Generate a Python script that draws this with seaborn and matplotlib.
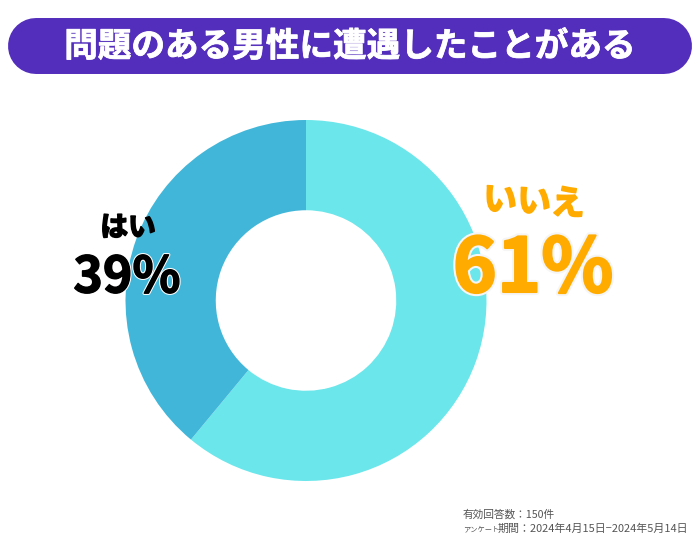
import matplotlib
matplotlib.use("Agg")
import matplotlib.pyplot as plt
import matplotlib.patheffects as pe
import seaborn as sns

title = "問題のある男性に遭遇したことがある"
labels = ["いいえ", "はい"]
values = [61, 39]
colors = ["#6be6eb", "#41b6d8"]
note_top = "有効回答数：150件"
note_kana = "アンケート"
note_rest = "期間：2024年4月15日−2024年5月14日"

sns.set_theme(style="white")
plt.rcParams["font.family"] = ["Noto Sans CJK JP", "DejaVu Sans"]

fig = plt.figure(figsize=(7, 5.5), dpi=100)

# whole figure in pixels, for banner and texts
bg = fig.add_axes([0, 0, 1, 1])
bg.set_xlim(0, 700)
bg.set_ylim(550, 0)
bg.axis("off")

# thick round capped line works as the pill shape
bg.plot([36, 664], [46, 46], color="#532dbb", lw=40.3, solid_capstyle="round")
bg.text(350, 47, title, color="white", fontsize=24.2, fontweight="bold",
        ha="center", va="center",
        path_effects=[pe.withStroke(linewidth=0.6, foreground="white")])

# donut
ax = fig.add_axes([125.5 / 700, (550 - 481) / 550, 361 / 700, 361 / 550])
ax.pie(values, colors=colors, startangle=90, counterclock=False, radius=1,
       wedgeprops=dict(width=0.5, linewidth=0))
ax.set_xlim(-1, 1)
ax.set_ylim(-1, 1)
ax.set_zorder(1)

top = fig.add_axes([0, 0, 1, 1], zorder=2)
top.set_xlim(0, 700)
top.set_ylim(550, 0)
top.axis("off")
top.patch.set_alpha(0)

orange = "#ffab00"
top.text(534, 202, labels[0], color=orange, fontsize=24.5, fontweight="bold",
         ha="center", va="center", rotation=-3,
         path_effects=[pe.withStroke(linewidth=1.2, foreground=orange)])
top.text(533, 270, f"{values[0]}%", color=orange, fontsize=54, fontweight="bold",
         ha="center", va="center",
         path_effects=[pe.Stroke(linewidth=4.5, foreground="#f5f5f5"),
                       pe.Stroke(linewidth=1.5, foreground=orange), pe.Normal()])

top.text(128, 228, labels[1], color="black", fontsize=20, fontweight="bold",
         ha="center", va="center",
         path_effects=[pe.withStroke(linewidth=1.2, foreground="black")])
top.text(127, 278, f"{values[1]}%", color="black", fontsize=36, fontweight="bold",
         ha="center", va="center",
         path_effects=[pe.Stroke(linewidth=2.5, foreground="white"),
                       pe.Stroke(linewidth=1, foreground="black"), pe.Normal()])

note_color = "#555555"
top.text(463, 515, note_top, color=note_color, fontsize=7.7, ha="left", va="center")
top.text(463, 529, note_kana, color=note_color, fontsize=5.2, ha="left", va="center")
top.text(498, 529, note_rest, color=note_color, fontsize=7.9, ha="left", va="center")

fig.savefig("out.png", dpi=100)
